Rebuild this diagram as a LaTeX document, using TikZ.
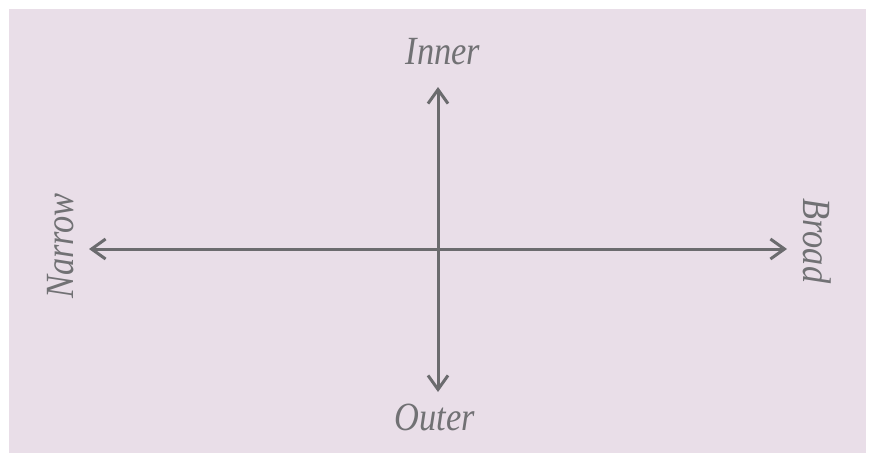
\documentclass[tikz,border=0pt]{standalone}
\usepackage{fontspec}
\usetikzlibrary{arrows.meta}
\newfontfamily\lblfont{Liberation Serif}[FakeStretch=0.86]
\definecolor{bgpink}{HTML}{E9DEE8}
\definecolor{axisgray}{HTML}{6B6B6E}
\definecolor{textgray}{HTML}{717174}
\tikzset{
  axis/.style={draw=axisgray, line width=3pt, {Straight Barb[length=14pt,width=20pt]}-{Straight Barb[length=14pt,width=20pt]}},
  lbl/.style={text=textgray, font=\lblfont\itshape\fontsize{40}{44}\selectfont, inner sep=0pt, anchor=base}
}
\begin{document}
\begin{tikzpicture}[x=1pt,y=-1pt]
\useasboundingbox (0,0) rectangle (869,453);
\fill[bgpink] (9,9) rectangle (866,453);
\coordinate (L) at (89,249);
\coordinate (R) at (787,249);
\coordinate (T) at (438,87);
\coordinate (B) at (438,392);
\draw[axis] (L) -- (R);
\draw[axis] (T) -- (B);
\node[lbl] (inner) at (443,64) {Inner};
\node[lbl] (outer) at (435,430) {Outer};
\node[lbl, rotate=90] (narrow) at (73,246) {Narrow};
\node[lbl, rotate=-90] (broad) at (803,241) {Broad};
\end{tikzpicture}
\end{document}
